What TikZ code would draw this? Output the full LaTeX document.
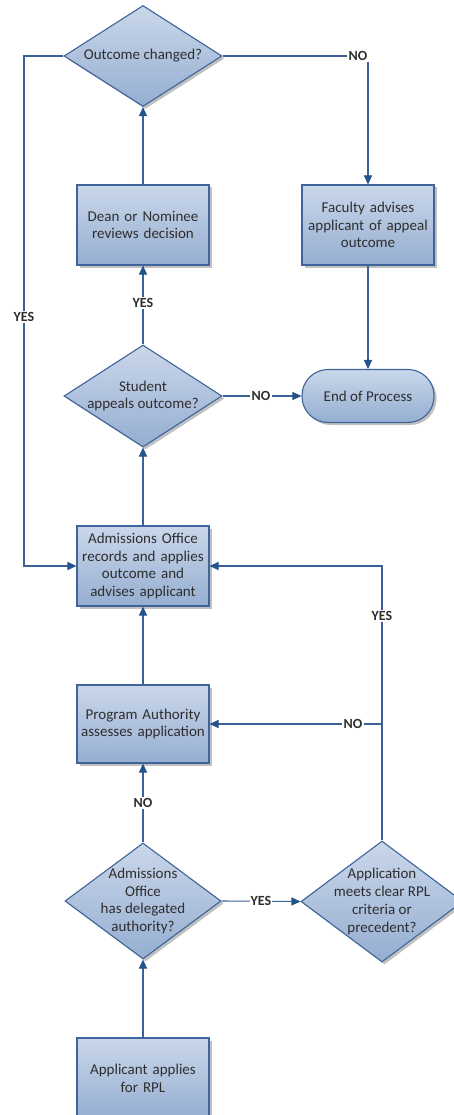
\documentclass[tikz,border=0pt]{standalone}
\usepackage{fontspec}
\setmainfont{Carlito}
\usetikzlibrary{shapes.geometric,arrows.meta,shadows,calc}
\definecolor{lineblue}{HTML}{3C6196}
\definecolor{arrowblue}{HTML}{24528C}
\definecolor{borderblue}{HTML}{3F6499}
\definecolor{filltop}{HTML}{CAD7EA}
\definecolor{fillbot}{HTML}{95AED1}
\definecolor{txtgray}{HTML}{2E2E2E}
\begin{document}
\begin{tikzpicture}[x=1pt,y=-1pt,
  shade/.style={drop shadow={shadow xshift=2.5pt,shadow yshift=-2.5pt,opacity=.35,fill=black!70}},
  boxfill/.style={draw=borderblue,line width=1.1pt,top color=filltop,bottom color=fillbot,shade},
  box/.style={boxfill,rectangle,minimum width=132pt,text width=128pt,align=center,inner sep=0pt,
    font=\fontsize{15}{17.7}\selectfont,text=txtgray},
  dia/.style={boxfill,diamond,inner sep=0pt},
  diatxt/.style={align=center,font=\fontsize{15}{17.7}\selectfont,text=txtgray,inner sep=0pt},
  conn/.style={draw=lineblue,line width=1.1pt,-{Triangle[length=9pt,width=8pt,color=arrowblue]}},
  plain/.style={draw=lineblue,line width=1.1pt},
  lbl/.style={fill=white,inner sep=1.2pt,font=\bfseries\fontsize{14}{16}\selectfont,text=txtgray}]
\path[use as bounding box,clip] (0,0) rectangle (454,1115);
\fill[white] (0,0) rectangle (454,1115);

% shapes
\node[dia,minimum width=158pt,minimum height=101pt] (d1) at (143,56) {};
\node[diatxt] (d1t) at (d1.center) {Outcome changed?};
\node[box,minimum height=80pt] (dean) at (143,225) {Dean or Nominee\\reviews decision};
\node[box,minimum height=80pt] (fac) at (368,225) {Faculty advises\\applicant of appeal\\outcome};
\node[dia,minimum width=158pt,minimum height=102pt] (d2) at (143,396) {};
\node[diatxt] (d2t) at (d2.center) {Student\\appeals outcome?};
\node[boxfill,rectangle,rounded corners=26pt,minimum width=132pt,minimum height=53pt,
  font=\fontsize{15}{17.7}\selectfont,text=txtgray] (end) at (368,396) {End of Process};
\node[box,minimum height=80pt] (adm) at (143,566) {Admissions Office\\records and applies\\outcome and\\advises applicant};
\node[box,minimum height=78pt] (pa) at (143,724) {Program Authority\\assesses application};
\node[dia,minimum width=156pt,minimum height=116pt] (d3) at (143,901) {};
\node[diatxt] (d3t) at (d3.center) {Admissions\\Office\\has delegated\\authority?};
\node[dia,minimum width=162pt,minimum height=121pt] (d4) at (382,901.5) {};
\node[diatxt] (d4t) at (d4.center) {Application\\meets clear RPL\\criteria or\\precedent?};
\node[box,minimum height=80pt] (appl) at (143,1078) {Applicant applies\\for RPL};

% corner coordinates
\coordinate (c1) at (fac.north |- d1.east);
\coordinate (c2) at (24,56);
\coordinate (c3) at (adm.west -| c2);
\coordinate (c4) at (adm.east -| d4.north);
\coordinate (c5) at (pa.east -| d4.north);

% connectors
\draw[conn] (d1.east) -- (c1) -- (fac.north);
\draw[conn] (d1.west) -- (c2) -- (c3) -- (adm.west);
\draw[conn] (dean.north) -- (d1.south);
\draw[conn] (d2.north) -- (dean.south);
\draw[conn] (fac.south) -- (end.north);
\draw[conn] (d2.east) -- (end.west);
\draw[conn] (adm.north) -- (d2.south);
\draw[conn] (pa.north) -- (adm.south);
\draw[conn] (d3.north) -- (pa.south);
\draw[conn] (appl.north) -- (d3.south);
\draw[conn] (d3.east) -- (d4.west);
\draw[conn] (d4.north) -- (c4) -- (adm.east);
\draw[conn] (c5) -- (pa.east);

% labels
\node[lbl] (l1) at (358,56) {NO};
\node[lbl] (l2) at (24,317) {YES};
\node[lbl] (l3) at (143,303) {YES};
\node[lbl] (l4) at (261,396) {NO};
\node[lbl] (l5) at (382,616) {YES};
\node[lbl] (l6) at (353,724) {NO};
\node[lbl] (l7) at (143,803) {NO};
\node[lbl] (l8) at (261,901) {YES};
\end{tikzpicture}
\end{document}
